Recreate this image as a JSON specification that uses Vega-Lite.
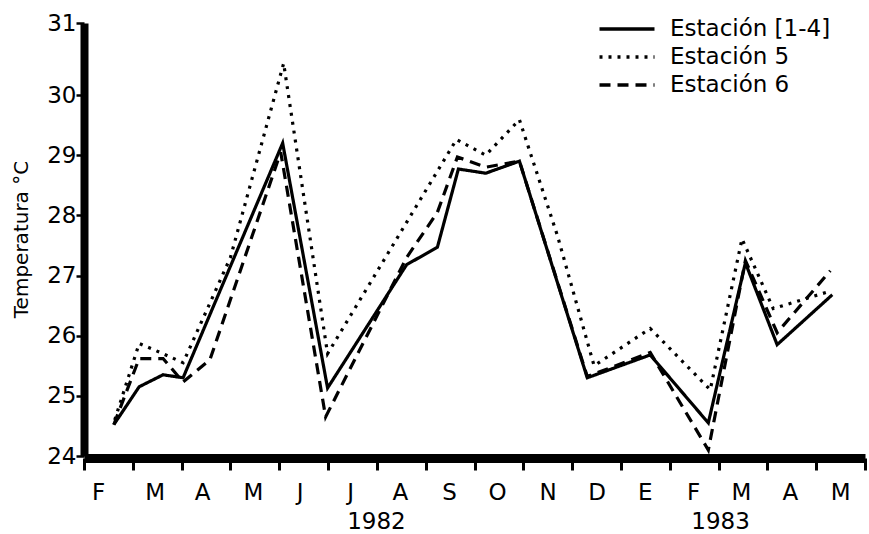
{
  "$schema": "https://vega.github.io/schema/vega-lite/v6.json",
  "width": 781,
  "height": 433,
  "autosize": {"type": "none"},
  "padding": {"left": 84, "top": 23, "right": 4, "bottom": 78},
  "background": "white",
  "config": {
    "view": {"stroke": null},
    "font": "DejaVu Sans",
    "axis": {"grid": false, "labelColor": "black", "titleColor": "black", "labelFont": "DejaVu Sans", "titleFont": "DejaVu Sans"},
    "legend": {"labelFont": "DejaVu Sans"}
  },
  "data": {
    "values": [
      {"s": "Estación [1-4]", "k": 0.61, "t": 24.52},
      {"s": "Estación [1-4]", "k": 1.13, "t": 25.15},
      {"s": "Estación [1-4]", "k": 1.62, "t": 25.35},
      {"s": "Estación [1-4]", "k": 2.03, "t": 25.3},
      {"s": "Estación [1-4]", "k": 4.07, "t": 29.2},
      {"s": "Estación [1-4]", "k": 4.99, "t": 25.13},
      {"s": "Estación [1-4]", "k": 6.61, "t": 27.18},
      {"s": "Estación [1-4]", "k": 7.24, "t": 27.47},
      {"s": "Estación [1-4]", "k": 7.67, "t": 28.77},
      {"s": "Estación [1-4]", "k": 8.23, "t": 28.7},
      {"s": "Estación [1-4]", "k": 8.92, "t": 28.9},
      {"s": "Estación [1-4]", "k": 10.31, "t": 25.3},
      {"s": "Estación [1-4]", "k": 11.6, "t": 25.68},
      {"s": "Estación [1-4]", "k": 12.79, "t": 24.55},
      {"s": "Estación [1-4]", "k": 13.55, "t": 27.21},
      {"s": "Estación [1-4]", "k": 14.2, "t": 25.85},
      {"s": "Estación [1-4]", "k": 15.33, "t": 26.68},
      {"s": "Estación 5", "k": 0.63, "t": 24.6},
      {"s": "Estación 5", "k": 1.13, "t": 25.87},
      {"s": "Estación 5", "k": 1.62, "t": 25.7},
      {"s": "Estación 5", "k": 2.03, "t": 25.55},
      {"s": "Estación 5", "k": 3.0, "t": 27.3},
      {"s": "Estación 5", "k": 4.09, "t": 30.44},
      {"s": "Estación 5", "k": 4.99, "t": 25.7},
      {"s": "Estación 5", "k": 7.63, "t": 29.26},
      {"s": "Estación 5", "k": 8.23, "t": 29.0},
      {"s": "Estación 5", "k": 8.92, "t": 29.59},
      {"s": "Estación 5", "k": 9.7, "t": 27.66},
      {"s": "Estación 5", "k": 10.45, "t": 25.5},
      {"s": "Estación 5", "k": 11.6, "t": 26.12},
      {"s": "Estación 5", "k": 12.83, "t": 25.1},
      {"s": "Estación 5", "k": 13.48, "t": 27.61},
      {"s": "Estación 5", "k": 14.12, "t": 26.45},
      {"s": "Estación 5", "k": 15.29, "t": 26.74},
      {"s": "Estación 6", "k": 0.61, "t": 24.52},
      {"s": "Estación 6", "k": 1.13, "t": 25.62},
      {"s": "Estación 6", "k": 1.62, "t": 25.62},
      {"s": "Estación 6", "k": 2.03, "t": 25.23},
      {"s": "Estación 6", "k": 2.58, "t": 25.6},
      {"s": "Estación 6", "k": 4.03, "t": 29.05},
      {"s": "Estación 6", "k": 4.95, "t": 24.65},
      {"s": "Estación 6", "k": 6.61, "t": 27.3},
      {"s": "Estación 6", "k": 7.24, "t": 28.05},
      {"s": "Estación 6", "k": 7.65, "t": 28.97},
      {"s": "Estación 6", "k": 8.23, "t": 28.8},
      {"s": "Estación 6", "k": 8.92, "t": 28.9},
      {"s": "Estación 6", "k": 10.31, "t": 25.32},
      {"s": "Estación 6", "k": 11.6, "t": 25.72},
      {"s": "Estación 6", "k": 12.79, "t": 24.1},
      {"s": "Estación 6", "k": 13.55, "t": 27.25},
      {"s": "Estación 6", "k": 14.2, "t": 26.05},
      {"s": "Estación 6", "k": 15.29, "t": 27.08}
    ]
  },
  "resolve": {"axis": {"x": "independent"}},
  "layer": [
    {
      "mark": {"type": "line", "color": "black", "strokeWidth": 3.2, "strokeJoin": "miter"},
      "encoding": {
        "x": {
          "field": "k", "type": "quantitative",
          "scale": {"domain": [0, 16], "nice": false, "zero": false},
          "axis": {
            "orient": "bottom",
            "values": [0, 1, 2, 3, 4, 5, 6, 7, 8, 9, 10, 11, 12, 13, 14, 15, 16],
            "labels": false, "title": null, "offset": 2,
            "domainWidth": 9, "domainColor": "black",
            "tickColor": "black", "tickWidth": 3, "tickSize": 12
          }
        },
        "y": {
          "field": "t", "type": "quantitative",
          "scale": {"type": "linear", "domain": [24, 30, 31], "range": [433, 72, 0], "nice": false, "zero": false},
          "axis": {
            "orient": "left",
            "values": [24, 25, 26, 27, 28, 29, 30, 31],
            "format": "d",
            "domainWidth": 8, "domainColor": "black",
            "tickColor": "black", "tickWidth": 2.5, "tickSize": 8,
            "labelFontSize": 23, "labelPadding": 0,
            "title": "Temperatura °C", "titleFontSize": 20, "titleFontWeight": "normal",
            "titleAngle": -90, "titleBaseline": "alphabetic", "titleAlign": "center",
            "titleX": -57, "titleY": 216
          }
        },
        "strokeDash": {
          "field": "s", "type": "nominal",
          "scale": {"domain": ["Estación [1-4]", "Estación 5", "Estación 6"], "range": [[1, 0], [3, 6], [11, 7]]},
          "legend": {
            "title": null, "orient": "none", "legendX": 530, "legendY": -7,
            "direction": "vertical",
            "symbolType": "M-2.5,0H2.5", "symbolSize": 484, "symbolStrokeWidth": 3.5,
            "symbolStrokeColor": "black", "symbolFillColor": "transparent",
            "labelFontSize": 23, "labelColor": "black", "labelOffset": 30, "labelLimit": 400,
            "rowPadding": 3
          }
        }
      }
    },
    {
      "mark": {"type": "line", "opacity": 0},
      "encoding": {
        "x": {
          "field": "k", "type": "quantitative",
          "axis": {
            "orient": "bottom",
            "values": [0.29, 1.45, 2.42, 3.46, 4.42, 5.45, 6.47, 7.48, 8.46, 9.5, 10.5, 11.49, 12.48, 13.46, 14.46, 15.49],
            "labelExpr": "['F','M','A','M','J','J','A','S','O','N','D','E','F','M','A','M'][floor(datum.value)]",
            "ticks": false, "domain": false, "title": null,
            "labelFontSize": 23, "labelPadding": 36, "labelBaseline": "middle",
            "labelFlush": false, "labelOverlap": false, "labelBound": false
          }
        },
        "y": {"field": "t", "type": "quantitative"},
        "detail": {"field": "s", "type": "nominal"}
      }
    },
    {
      "mark": {"type": "line", "opacity": 0},
      "encoding": {
        "x": {
          "field": "k", "type": "quantitative",
          "axis": {
            "orient": "bottom",
            "values": [5.98, 13.03],
            "labelExpr": "datum.value < 10 ? '1982' : '1983'",
            "ticks": false, "domain": false, "title": null,
            "labelFontSize": 23, "labelPadding": 65, "labelBaseline": "middle",
            "labelFlush": false, "labelOverlap": false, "labelBound": false
          }
        },
        "y": {"field": "t", "type": "quantitative"},
        "detail": {"field": "s", "type": "nominal"}
      }
    }
  ]
}
